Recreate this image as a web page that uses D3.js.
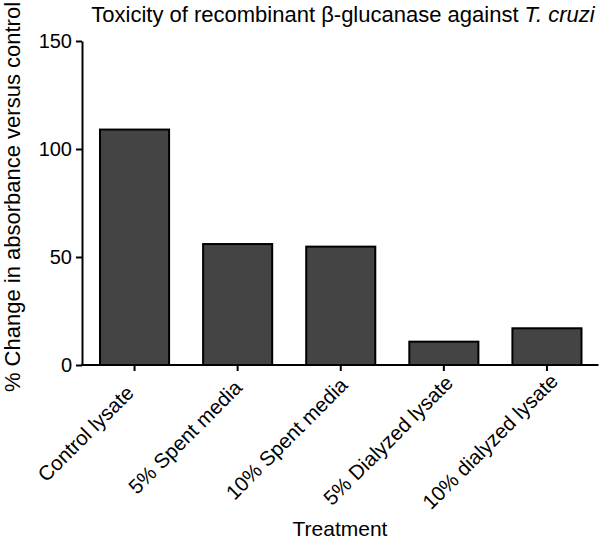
<!DOCTYPE html>
<head>
  <meta charset="utf-8">
  <script src="https://d3js.org/d3.v7.min.js"></script>
  <style>
    body { margin: 0; background: white; }
    text { font-family: "Liberation Sans", Arial, Helvetica, sans-serif; fill: #000; }
    .bar { fill: #444; stroke: #000; stroke-width: 2px; }
    .axis path, .axis line { stroke: #000; stroke-width: 2px; }
  </style>
</head>
<body>
  <div class="chart"></div>
  <script>
    const categories = ['Control lysate', '5% Spent media', '10% Spent media', '5% Dialyzed lysate', '10% dialyzed lysate'];
    const values = [109, 56, 54.8, 10.8, 17];
    const yTicks = [0, 50, 100, 150];

    const width = 600, height = 541;
    const plotLeft = 83, plotRight = 598.5, plotTop = 41, plotBottom = 365;

    const svg = d3.select('.chart')
      .append('svg')
        .attr('width', width)
        .attr('height', height);

    const x = d3.scaleBand()
      .domain(categories)
      .range([plotLeft, plotRight])
      .paddingInner(0.33)
      .paddingOuter(0.165);

    const y = d3.scaleLinear()
      .domain([0, 150])
      .range([plotBottom, plotTop]);

    // bars
    svg.selectAll('.bar')
      .data(categories)
      .enter()
      .append('rect')
        .attr('class', 'bar')
        .attr('x', d => x(d))
        .attr('y', (d, i) => y(values[i]))
        .attr('width', x.bandwidth())
        .attr('height', (d, i) => y(0) - y(values[i]));

    // y axis
    const yAxis = svg.append('g')
      .attr('class', 'axis')
      .attr('transform', `translate(${plotLeft - 1}, 0)`)
      .call(d3.axisLeft(y).tickValues(yTicks).tickSize(6).tickSizeOuter(0).tickPadding(4));
    yAxis.selectAll('text').style('font-size', '20px');

    // x axis
    const xAxis = svg.append('g')
      .attr('class', 'axis')
      .attr('transform', `translate(0, ${plotBottom})`)
      .call(d3.axisBottom(x).tickSize(6).tickSizeOuter(0).tickFormat(''));
    xAxis.select('.domain').attr('d', `M${plotLeft - 2},0H${plotRight}`);

    // rotated labels: longer labels slide a bit further up the diagonal
    xAxis.selectAll('.tick')
      .append('text')
        .attr('text-anchor', 'end')
        .attr('transform', 'rotate(-45)')
        .attr('y', 21)
        .style('font-size', '20.5px')
        .text(d => d)
        .each(function() {
          const len = this.getComputedTextLength();
          d3.select(this).attr('x', -20.5 + 0.3 * (len - 125));
        });

    // title
    svg.append('text')
      .attr('x', 343)
      .attr('y', 22)
      .attr('text-anchor', 'middle')
      .style('font-size', '22px')
      .html('Toxicity of recombinant β-glucanase against <tspan font-style="italic">T. cruzi</tspan>');

    // axis titles
    svg.append('text')
      .attr('x', 340)
      .attr('y', 536)
      .attr('text-anchor', 'middle')
      .style('font-size', '21px')
      .text('Treatment');

    svg.append('text')
      .attr('transform', 'translate(20, 197) rotate(-90)')
      .attr('text-anchor', 'middle')
      .style('font-size', '22px')
      .text('% Change in absorbance versus control');
  </script>
</body>
